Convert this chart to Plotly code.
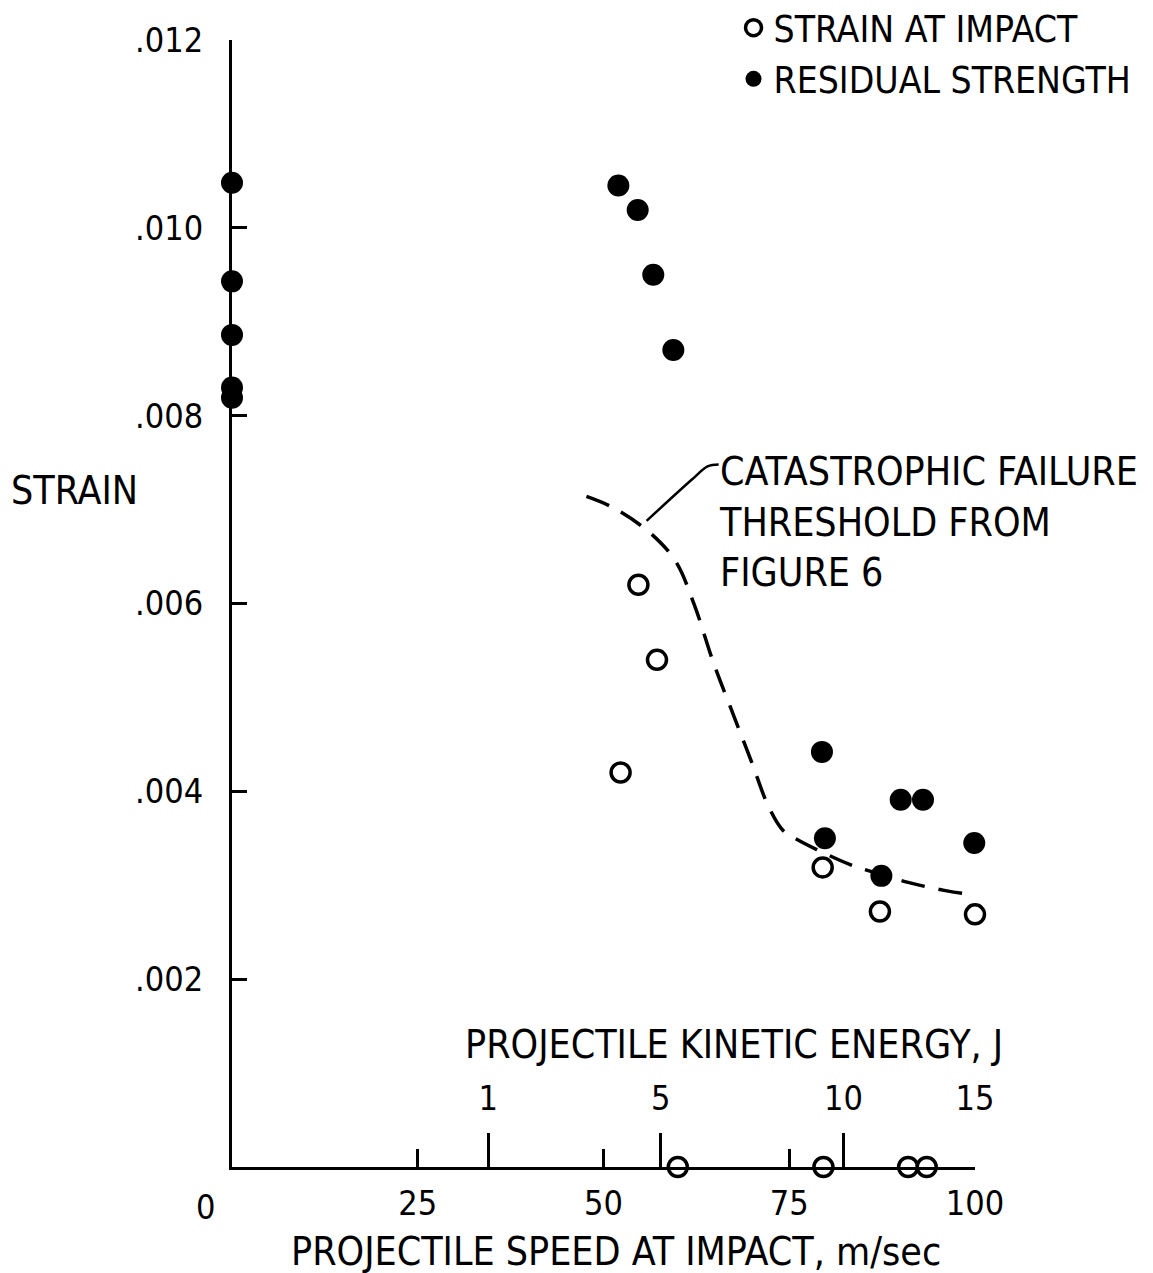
import plotly.graph_objects as go

# open circles: strain at impact
impact_speed = [54.7, 57.2, 52.3, 79.5, 87.2, 100.0, 60.0, 79.6, 91.0, 93.5]
impact_strain = [0.00620, 0.00540, 0.00420, 0.00319, 0.00272, 0.00269, 0.0, 0.0, 0.0, 0.0]

# filled circles: residual strength
resid_speed = [0, 0, 0, 0, 0, 52.0, 54.6, 56.7, 59.4, 79.4, 79.8, 87.4, 90.0, 93.0, 99.9]
resid_strain = [0.01048, 0.00943, 0.00886, 0.00830, 0.00819,
                0.01045, 0.01019, 0.00950, 0.00870, 0.00442, 0.00350,
                0.00310, 0.00391, 0.00391, 0.00345]

# catastrophic failure threshold (dashed)
curve_speed = [47.7, 51.3, 56.3, 59.7, 62.2, 64.8, 67.7, 69.9, 72.2, 74.2,
               76.0, 78.7, 83.2, 86.3, 91.0, 96.2, 101.6]
curve_strain = [0.00714, 0.00702, 0.00675, 0.00645, 0.00599, 0.00537, 0.00477,
                0.00432, 0.00384, 0.00358, 0.00349, 0.00338, 0.00322, 0.00314,
                0.00303, 0.00294, 0.00288]

# leader line from curve to the note
leader_speed = [55.8, 61.9, 64.0, 65.5]
leader_strain = [0.00688, 0.00732, 0.00746, 0.00748]

strain_ticks = [0.002, 0.004, 0.006, 0.008, 0.010, 0.012]
strain_labels = [".002", ".004", ".006", ".008", ".010", ".012"]
speed_ticks = [25, 50, 75, 100]
speed_labels = ["25", "50", "75", "100"]
energy_speed = [34.5, 57.7, 82.3, 100]
energy_labels = ["1", "5", "10", "15"]

FONT = "Liberation Sans Narrow, DejaVu Sans Condensed, sans-serif"
INK = "black"
TXT = 39
NUM = 34

fig = go.Figure()
fig.add_trace(go.Scatter(
    x=curve_speed, y=curve_strain, mode="lines", line_shape="spline",
    line=dict(color=INK, width=3.5, dash="24px,14px"),
    showlegend=False, hoverinfo="skip",
))
fig.add_trace(go.Scatter(
    x=leader_speed, y=leader_strain, mode="lines", line_shape="spline",
    line=dict(color=INK, width=2.5), showlegend=False, hoverinfo="skip",
))
fig.add_trace(go.Scatter(
    x=impact_speed, y=impact_strain, mode="markers", name="STRAIN AT IMPACT",
    marker=dict(symbol="circle", size=19, color="white", line=dict(color=INK, width=3.5)),
    cliponaxis=False,
))
fig.add_trace(go.Scatter(
    x=resid_speed, y=resid_strain, mode="markers", name="RESIDUAL STRENGTH",
    marker=dict(symbol="circle", size=22, color=INK),
    cliponaxis=False,
))
# dummy trace to carry the kinetic energy axis
fig.add_trace(go.Scatter(x=[0, 100], y=[0, 0], xaxis="x2", mode="none",
                         showlegend=False, hoverinfo="skip"))

fig.add_annotation(x=0, y=0, text="0", showarrow=False, xshift=-27, yshift=-18,
                   yanchor="top", font=dict(size=NUM))
fig.add_annotation(x=51.7, y=0, text="PROJECTILE SPEED AT IMPACT, m/sec", showarrow=False,
                   yanchor="top", yshift=-60, font=dict(size=TXT))
fig.add_annotation(x=-0.30, y=0.0072, xref="paper", text="STRAIN", showarrow=False,
                   xanchor="left", font=dict(size=TXT))
fig.add_annotation(x=65.3, y=0.00767, text="CATASTROPHIC FAILURE<br>THRESHOLD FROM<br>FIGURE 6",
                   showarrow=False, xanchor="left", yanchor="top", align="left",
                   font=dict(size=TXT))
fig.add_annotation(x=0.676, y=0.087, xref="paper", yref="paper", xanchor="center",
                   text="PROJECTILE KINETIC ENERGY, J", showarrow=False, font=dict(size=TXT))

fig.update_layout(
    width=1145, height=1265,
    paper_bgcolor="white", plot_bgcolor="white",
    font=dict(family=FONT, color=INK, size=TXT),
    margin=dict(l=224, r=178, t=32, b=106, autoexpand=False),
    showlegend=True,
    legend=dict(x=0.675, y=1.038, xanchor="left", yanchor="top", tracegroupgap=0,
                bgcolor="rgba(0,0,0,0)", font=dict(size=37), itemsizing="trace"),
    xaxis=dict(range=[0, 100], showgrid=False, zeroline=False,
               showline=True, linecolor=INK, linewidth=3,
               tickvals=speed_ticks, ticktext=speed_labels, tickfont=dict(size=NUM, color=INK),
               ticks="inside", ticklen=18, tickwidth=3, tickcolor=INK,
               ticklabelstandoff=4),
    xaxis2=dict(range=[0, 100], overlaying="x", anchor="y", side="bottom",
                showgrid=False, zeroline=False, showline=False,
                tickvals=energy_speed, ticktext=energy_labels,
                tickfont=dict(size=NUM, color=INK),
                ticks="inside", ticklen=34, tickwidth=3, tickcolor=INK,
                ticklabelposition="inside", ticklabelstandoff=20,
                ticklabeloverflow="allow"),
    yaxis=dict(range=[0, 0.012], showgrid=False, zeroline=False,
               showline=True, linecolor=INK, linewidth=3,
               tickvals=strain_ticks, ticktext=strain_labels, tickfont=dict(size=NUM, color=INK),
               ticks="inside", ticklen=15, tickwidth=3, tickcolor=INK,
               ticklabelstandoff=19),
)

fig.write_html("out.html")
